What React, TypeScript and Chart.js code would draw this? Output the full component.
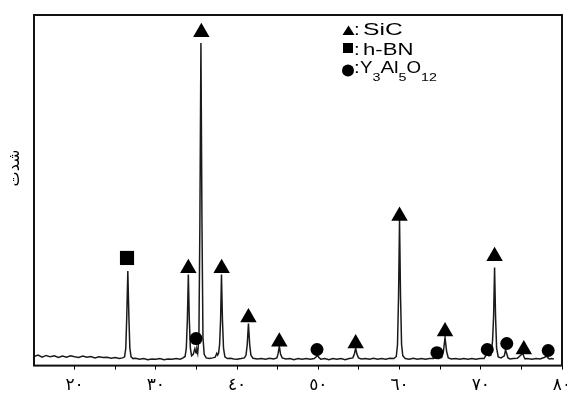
import React, { useEffect, useRef } from 'react';
import { Chart, registerables } from 'chart.js';

Chart.register(...registerables);

// XRD trace (2θ in degrees, intensity in arbitrary units 0–100)
const twoTheta = [
  15.0, 15.5, 16.0, 16.5, 17.0, 17.5, 18.0, 18.5, 19.0, 19.5, 20.0, 20.5, 21.0, 21.5, 22.0, 22.5,
  23.0, 23.5, 24.0, 24.5, 25.0, 25.5, 25.9, 26.15, 26.3, 26.42, 26.55, 26.68, 26.8, 26.95, 27.2,
  27.5, 28.0, 28.5, 29.0, 29.5, 30.0, 30.5, 31.0, 31.5, 32.0, 32.5, 33.0, 33.35, 33.6, 33.75, 33.88,
  34.0, 34.12, 34.25, 34.4, 34.6, 34.8, 34.95, 35.05, 35.15, 35.3, 35.42, 35.55, 35.68, 35.8, 35.95,
  36.2, 36.6, 37.0, 37.3, 37.5, 37.6, 37.72, 37.85, 37.97, 38.08, 38.2, 38.33, 38.5, 38.8, 39.2,
  39.6, 40.0, 40.5, 40.9, 41.1, 41.25, 41.4, 41.55, 41.7, 41.95, 42.5, 43.0, 43.5, 44.0, 44.5,
  44.9, 45.05, 45.2, 45.35, 45.55, 46.0, 46.5, 47.0, 47.5, 48.0, 48.5, 49.0, 49.5, 49.75, 49.9,
  50.05, 50.3, 50.8, 51.3, 51.8, 52.3, 52.8, 53.3, 53.8, 54.25, 54.45, 54.6, 54.75, 54.95, 55.3,
  55.8, 56.3, 56.8, 57.3, 57.8, 58.3, 58.8, 59.3, 59.6, 59.75, 59.88, 60.0, 60.12, 60.25, 60.4,
  60.7, 61.2, 61.7, 62.2, 62.7, 63.2, 63.7, 64.2, 64.45, 64.6, 64.8, 65.2, 65.4, 65.6, 65.8, 66.0,
  66.4, 66.9, 67.4, 67.9, 68.4, 68.9, 69.4, 69.9, 70.4, 70.65, 70.82, 71.0, 71.25, 71.45, 71.58,
  71.7, 71.82, 71.95, 72.15, 72.5, 72.9, 73.05, 73.2, 73.35, 73.6, 74.0, 74.5, 74.95, 75.15, 75.3,
  75.45, 75.7, 76.3, 76.8, 77.3, 77.8, 78.15, 78.3, 78.45, 78.7, 79.0, 79.5, 80.0,
];
const intensity = [
  2.6, 3.0, 2.4, 2.9, 2.5, 2.8, 2.3, 2.7, 2.4, 2.8, 2.5, 2.3, 2.7, 2.4, 2.6, 2.2,
  2.5, 2.3, 2.4, 2.1, 2.3, 2.0, 2.2, 2.5, 5, 14, 27, 14, 5, 2.5, 2.0,
  2.1, 1.8, 2.0, 1.7, 1.9, 1.8, 2.0, 1.7, 1.9, 1.8, 2.0, 1.8, 2.2, 2.6, 5, 13,
  26, 13, 5, 2.8, 3.2, 4.8, 3.6, 4.5, 3.5, 8, 40, 92, 40, 8, 3.2,
  2.2, 2.0, 2.2, 2.4, 3.5, 3.0, 3.5, 6, 13, 26, 13, 5, 2.5, 2.0, 2.1,
  1.9, 1.8, 2.0, 2.2, 3.0, 6, 12, 6, 3.0, 2.1, 1.9, 2.0, 1.8, 2.1, 1.9,
  2.2, 3.4, 5.5, 3.3, 2.2, 1.9, 2.0, 1.7, 2.0, 1.8, 2.0, 1.8, 2.0, 2.5, 2.9,
  2.4, 1.8, 2.0, 1.7, 2.0, 1.8, 2.0, 1.7, 2.0, 2.2, 3.4, 5, 3.3, 2.2, 1.9,
  2.0, 1.8, 2.1, 1.8, 2.0, 1.8, 2.1, 2.0, 2.6, 6, 20, 41.5, 20, 6, 2.8,
  2.0, 1.8, 2.1, 1.8, 2.0, 1.8, 2.0, 2.0, 2.6, 2.8, 2.0, 2.3, 4.0, 8, 4.0, 2.2,
  1.9, 2.0, 1.8, 2.0, 1.8, 2.0, 1.8, 2.0, 2.0, 3.0, 3.6, 2.8, 3.0, 7, 14,
  28, 14, 5, 2.5, 2.2, 2.8, 4.5, 3.4, 2.2, 1.9, 2.0, 2.1, 3.0, 3.6,
  2.6, 1.9, 2.0, 1.8, 2.0, 1.9, 2.3, 2.7, 2.1, 1.9, 2.0, 1.9,
];

// Phase markers
const sicX = [34.0, 35.6, 38.1, 41.4, 45.2, 54.6, 60.0, 65.6, 71.7, 75.3];
const sicY = [27.8, 95.1, 27.8, 13.7, 6.8, 6.3, 42.7, 9.7, 31.2, 4.6];
const bnX = [26.45];
const bnY = [30.7];
const yagX = [34.95, 49.84, 64.6, 70.8, 73.2, 78.3];
const yagY = [7.7, 4.6, 3.7, 4.6, 6.3, 4.3];

// Axis
const xTickValues = [20, 25, 30, 35, 40, 45, 50, 55, 60, 65, 70, 75, 80];
const xTickLabels = ['٢٠', '', '٣٠', '', '٤٠', '', '٥٠', '', '٦٠', '', '٧٠', '', '٨٠'];
const yTitle = 'شدت';
const legendNames = ['SiC', 'h-BN'];

export default function App() {
  const ref = useRef<HTMLCanvasElement>(null);

  useEffect(() => {
    const canvas = ref.current!;
    const framePlugin = {
      id: 'frame',
      afterDraw(chart: any) {
        const { ctx, chartArea: a } = chart;
        ctx.save();
        ctx.strokeStyle = '#111';
        ctx.lineWidth = 2;
        ctx.strokeRect(a.left, a.top, a.right - a.left, a.bottom - a.top);

        // y axis title
        ctx.save();
        ctx.translate(15, 168);
        ctx.rotate(-Math.PI / 2);
        ctx.fillStyle = '#000';
        ctx.font = '16px "DejaVu Sans"';
        ctx.textAlign = 'center';
        ctx.textBaseline = 'middle';
        ctx.fillText(yTitle, 0, 0);
        ctx.restore();

        // legend
        ctx.fillStyle = '#000';
        ctx.beginPath();
        ctx.moveTo(348.5, 25.5);
        ctx.lineTo(354.5, 35);
        ctx.lineTo(342.5, 35);
        ctx.closePath();
        ctx.fill();
        ctx.fillRect(343, 43, 10, 10);
        ctx.beginPath();
        ctx.arc(348, 70.5, 6, 0, Math.PI * 2);
        ctx.fill();

        ctx.textAlign = 'left';
        ctx.textBaseline = 'alphabetic';
        const drawScaled = (t: string, x: number, y: number, size: number, sx: number) => {
          ctx.save();
          ctx.font = `${size}px "Liberation Sans", Arial, sans-serif`;
          ctx.translate(x, y);
          ctx.scale(sx, 1);
          ctx.fillText(t, 0, 0);
          const w = ctx.measureText(t).width * sx;
          ctx.restore();
          return w;
        };
        drawScaled(':', 354, 35, 17, 1.2);
        drawScaled(legendNames[0], 363, 35, 17, 1.45);
        drawScaled(':', 354, 55, 17, 1.2);
        drawScaled(legendNames[1], 363, 55, 17, 1.3);
        drawScaled(':', 354, 73, 17, 1.2);
        let x = 360;
        x += drawScaled('Y', x, 73, 17, 1.1);
        x += drawScaled('3', x, 81, 11, 1.3);
        x += drawScaled('Al', x, 73, 17, 1.2);
        x += drawScaled('5', x, 81, 11, 1.3);
        x += drawScaled('O', x, 73, 17, 1.1);
        drawScaled('12', x, 81, 11, 1.3);
        ctx.restore();
      },
    };

    const chart = new Chart(canvas, {
      type: 'line',
      data: {
        datasets: [
          {
            type: 'scatter',
            data: sicX.map((x, i) => ({ x, y: sicY[i] })),
            pointStyle: 'triangle',
            pointRadius: 9.5,
            backgroundColor: '#000',
            borderColor: '#000',
            borderWidth: 0,
            showLine: false,
            clip: false,
          } as any,
          {
            type: 'scatter',
            data: bnX.map((x, i) => ({ x, y: bnY[i] })),
            pointStyle: 'rect',
            pointRadius: 10,
            backgroundColor: '#000',
            borderColor: '#000',
            borderWidth: 0,
            showLine: false,
            clip: false,
          } as any,
          {
            type: 'scatter',
            data: yagX.map((x, i) => ({ x, y: yagY[i] })),
            pointStyle: 'circle',
            pointRadius: 6.5,
            backgroundColor: '#000',
            borderColor: '#000',
            borderWidth: 0,
            showLine: false,
            clip: false,
          } as any,
          {
            type: 'line',
            data: twoTheta.map((x, i) => ({ x, y: intensity[i] })),
            borderColor: '#1a1a1a',
            borderWidth: 1.5,
            pointRadius: 0,
            tension: 0,
            fill: false,
          } as any,
        ],
      },
      options: {
        animation: false,
        responsive: false,
        maintainAspectRatio: false,
        layout: { padding: { left: 34, top: 15, right: 23, bottom: 3 } },
        plugins: { legend: { display: false }, tooltip: { enabled: false } },
        scales: {
          x: {
            type: 'linear',
            min: 15,
            max: 80,
            afterBuildTicks: (scale: any) => {
              scale.ticks = xTickValues.map((v) => ({ value: v }));
            },
            ticks: {
              autoSkip: false,
              maxRotation: 0,
              padding: 6,
              color: '#000',
              font: { family: '"DejaVu Sans"', size: 17 },
              callback: (v: any) => {
                const i = xTickValues.indexOf(Number(v));
                return i >= 0 ? xTickLabels[i] : '';
              },
            },
            grid: { display: true, drawOnChartArea: false, drawTicks: true, tickLength: 4, color: '#000', lineWidth: 1 },
            border: { display: false },
          },
          y: { min: 0, max: 100, display: false },
        },
      } as any,
      plugins: [framePlugin],
    });
    return () => chart.destroy();
  }, []);

  return (
    <div style={{ position: 'absolute', left: 0, top: 0, width: 567, height: 396, overflow: 'hidden', background: '#fff' }}>
      <canvas ref={ref} width={585} height={405} style={{ display: 'block' }} />
    </div>
  );
}
